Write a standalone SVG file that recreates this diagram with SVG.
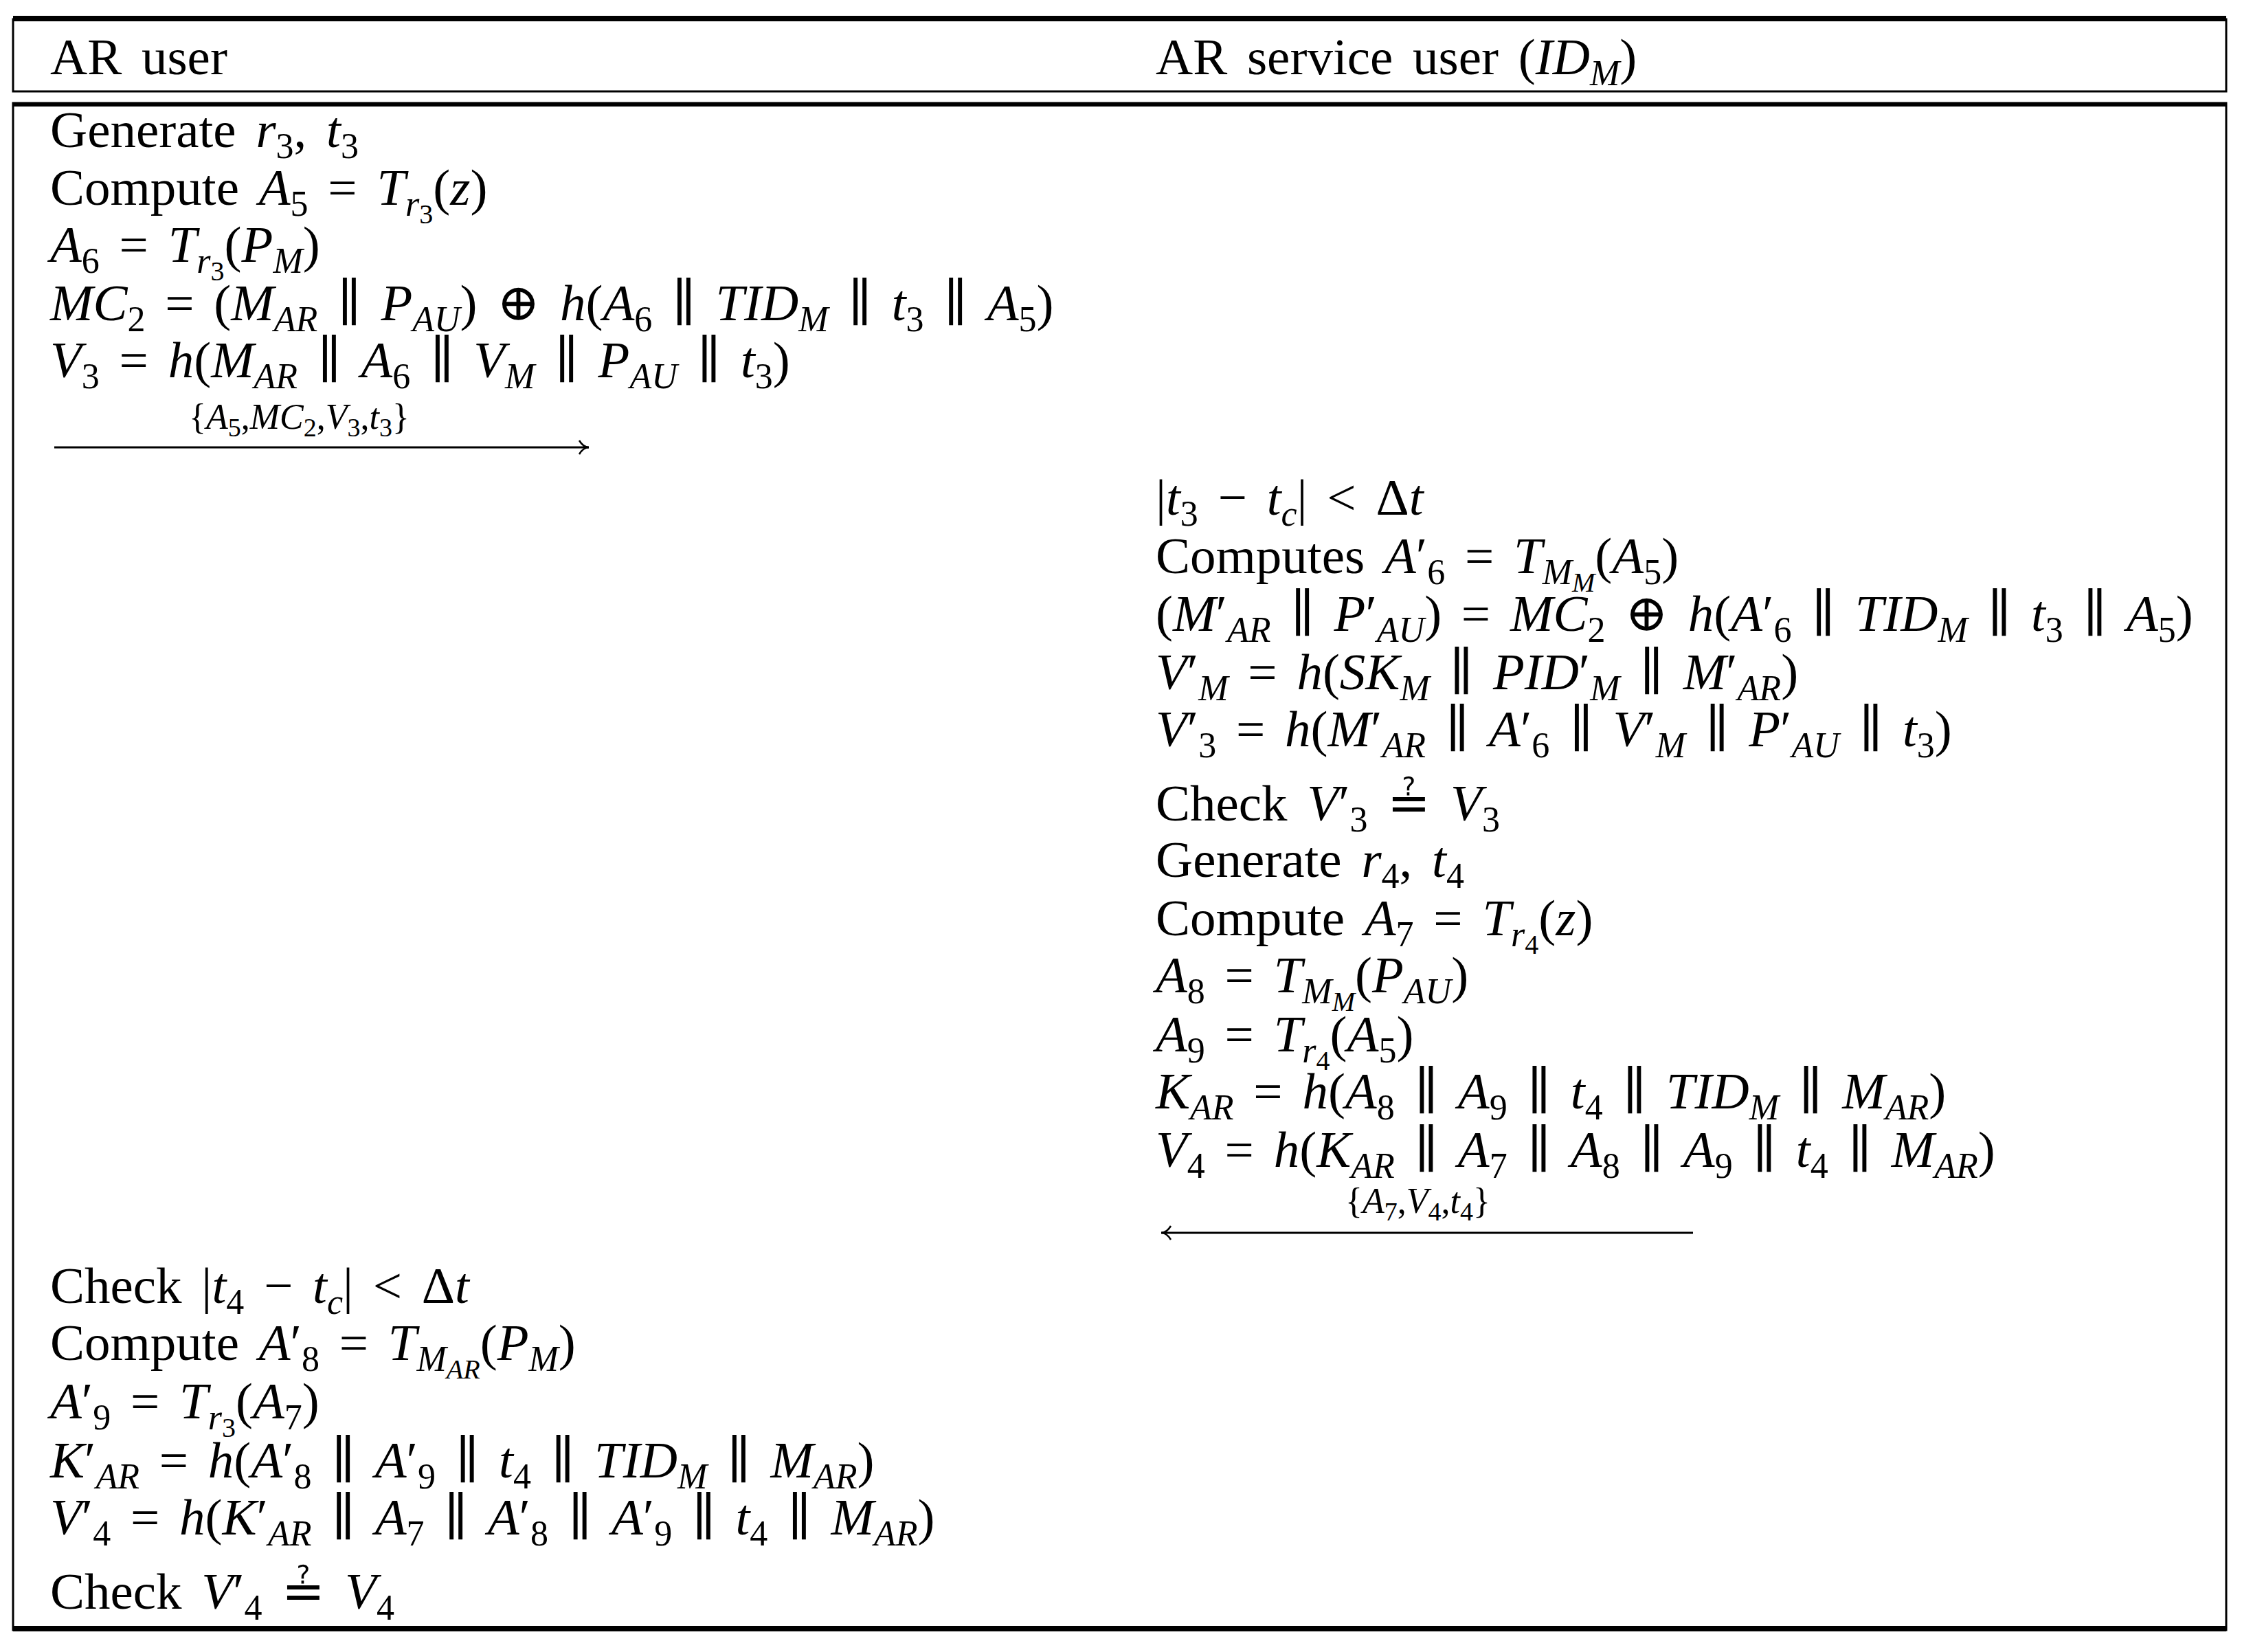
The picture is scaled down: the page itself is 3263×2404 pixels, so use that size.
<svg xmlns="http://www.w3.org/2000/svg" width="3263" height="2404" viewBox="0 0 3263 2404">
<style>
text{font-family:"Liberation Serif","DejaVu Serif",serif;font-size:75px;fill:#000;word-spacing:10px}
.i{font-style:italic}
.s{font-size:52px;baseline-shift:-16px}
.ss{font-size:40px;baseline-shift:-11px}
.lbl{font-size:52px;word-spacing:0}
.lbl .s{font-size:38px;baseline-shift:-11px}
line.c{stroke:#000;stroke-width:3}
</style>
<defs>
<marker id="ah" viewBox="0 0 20 24" refX="18" refY="12" markerWidth="20" markerHeight="24" markerUnits="userSpaceOnUse" orient="auto-start-reverse">
<path d="M4,2 Q10,12 18,12 Q10,12 4,22" fill="none" stroke="#000" stroke-width="2.5"/>
</marker>
</defs>
<rect width="3263" height="2404" fill="#fff"/>
<g id="frame">
<rect x="19" y="28" width="3221" height="105" fill="none" stroke="#000" stroke-width="3"/>
<line x1="19" y1="27" x2="3240" y2="27" stroke="#000" stroke-width="8"/>
<rect x="19" y="150" width="3221" height="2222" fill="none" stroke="#000" stroke-width="3"/>
<line x1="19" y1="152" x2="3240" y2="152" stroke="#000" stroke-width="6"/>
<line x1="19" y1="2370" x2="3240" y2="2370" stroke="#000" stroke-width="8"/>
</g>
<g id="header">
<text x="73" y="108">AR user</text>
<text x="1682" y="108">AR service user (<tspan class="i">ID<tspan class="s">M</tspan></tspan>)</text>
</g>
<g id="ar-user-step1">
<text x="73" y="214">Generate <tspan class="i">r</tspan><tspan class="s">3</tspan><tspan baseline-shift="0">, </tspan><tspan class="i">t</tspan><tspan class="s">3</tspan></text>
<text x="73" y="298">Compute <tspan class="i">A</tspan><tspan class="s">5</tspan> = <tspan class="i">T</tspan><tspan class="s i">r<tspan class="ss" font-style="normal">3</tspan></tspan>(<tspan class="i">z</tspan>)</text>
<text x="73" y="381"><tspan class="i">A</tspan><tspan class="s">6</tspan> = <tspan class="i">T</tspan><tspan class="s i">r<tspan class="ss" font-style="normal">3</tspan></tspan>(<tspan class="i">P</tspan><tspan class="s i">M</tspan>)</text>
<text x="73" y="466"><tspan class="i">MC</tspan><tspan class="s">2</tspan> = (<tspan class="i">M</tspan><tspan class="s i">AR</tspan> ∥ <tspan class="i">P</tspan><tspan class="s i">AU</tspan>) ⊕ <tspan class="i">h</tspan>(<tspan class="i">A</tspan><tspan class="s">6</tspan> ∥ <tspan class="i">TID</tspan><tspan class="s i">M</tspan> ∥ <tspan class="i">t</tspan><tspan class="s">3</tspan> ∥ <tspan class="i">A</tspan><tspan class="s">5</tspan>)</text>
<text x="73" y="549"><tspan class="i">V</tspan><tspan class="s">3</tspan> = <tspan class="i">h</tspan>(<tspan class="i">M</tspan><tspan class="s i">AR</tspan> ∥ <tspan class="i">A</tspan><tspan class="s">6</tspan> ∥ <tspan class="i">V</tspan><tspan class="s i">M</tspan> ∥ <tspan class="i">P</tspan><tspan class="s i">AU</tspan> ∥ <tspan class="i">t</tspan><tspan class="s">3</tspan>)</text>
</g>
<g id="service-step">
<text x="1682" y="749">|<tspan class="i">t</tspan><tspan class="s">3</tspan> − <tspan class="i">t</tspan><tspan class="s i">c</tspan>| &lt; Δ<tspan class="i">t</tspan></text>
<text x="1682" y="834">Computes <tspan class="i">A</tspan>′<tspan class="s">6</tspan> = <tspan class="i">T</tspan><tspan class="s i">M<tspan class="ss">M</tspan></tspan>(<tspan class="i">A</tspan><tspan class="s">5</tspan>)</text>
<text x="1682" y="918">(<tspan class="i">M</tspan>′<tspan class="s i">AR</tspan> ∥ <tspan class="i">P</tspan>′<tspan class="s i">AU</tspan>) = <tspan class="i">MC</tspan><tspan class="s">2</tspan> ⊕ <tspan class="i">h</tspan>(<tspan class="i">A</tspan>′<tspan class="s">6</tspan> ∥ <tspan class="i">TID</tspan><tspan class="s i">M</tspan> ∥ <tspan class="i">t</tspan><tspan class="s">3</tspan> ∥ <tspan class="i">A</tspan><tspan class="s">5</tspan>)</text>
<text x="1682" y="1003"><tspan class="i">V</tspan>′<tspan class="s i">M</tspan> = <tspan class="i">h</tspan>(<tspan class="i">SK</tspan><tspan class="s i">M</tspan> ∥ <tspan class="i">PID</tspan>′<tspan class="s i">M</tspan> ∥ <tspan class="i">M</tspan>′<tspan class="s i">AR</tspan>)</text>
<text x="1682" y="1086"><tspan class="i">V</tspan>′<tspan class="s">3</tspan> = <tspan class="i">h</tspan>(<tspan class="i">M</tspan>′<tspan class="s i">AR</tspan> ∥ <tspan class="i">A</tspan>′<tspan class="s">6</tspan> ∥ <tspan class="i">V</tspan>′<tspan class="s i">M</tspan> ∥ <tspan class="i">P</tspan>′<tspan class="s i">AU</tspan> ∥ <tspan class="i">t</tspan><tspan class="s">3</tspan>)</text>
<text x="1682" y="1194">Check <tspan class="i">V</tspan>′<tspan class="s">3</tspan> ≟ <tspan class="i">V</tspan><tspan class="s">3</tspan></text>
<text x="1682" y="1276">Generate <tspan class="i">r</tspan><tspan class="s">4</tspan>, <tspan class="i">t</tspan><tspan class="s">4</tspan></text>
<text x="1682" y="1361">Compute <tspan class="i">A</tspan><tspan class="s">7</tspan> = <tspan class="i">T</tspan><tspan class="s i">r<tspan class="ss" font-style="normal">4</tspan></tspan>(<tspan class="i">z</tspan>)</text>
<text x="1682" y="1444"><tspan class="i">A</tspan><tspan class="s">8</tspan> = <tspan class="i">T</tspan><tspan class="s i">M<tspan class="ss">M</tspan></tspan>(<tspan class="i">P</tspan><tspan class="s i">AU</tspan>)</text>
<text x="1682" y="1530"><tspan class="i">A</tspan><tspan class="s">9</tspan> = <tspan class="i">T</tspan><tspan class="s i">r<tspan class="ss" font-style="normal">4</tspan></tspan>(<tspan class="i">A</tspan><tspan class="s">5</tspan>)</text>
<text x="1682" y="1613"><tspan class="i">K</tspan><tspan class="s i">AR</tspan> = <tspan class="i">h</tspan>(<tspan class="i">A</tspan><tspan class="s">8</tspan> ∥ <tspan class="i">A</tspan><tspan class="s">9</tspan> ∥ <tspan class="i">t</tspan><tspan class="s">4</tspan> ∥ <tspan class="i">TID</tspan><tspan class="s i">M</tspan> ∥ <tspan class="i">M</tspan><tspan class="s i">AR</tspan>)</text>
<text x="1682" y="1698"><tspan class="i">V</tspan><tspan class="s">4</tspan> = <tspan class="i">h</tspan>(<tspan class="i">K</tspan><tspan class="s i">AR</tspan> ∥ <tspan class="i">A</tspan><tspan class="s">7</tspan> ∥ <tspan class="i">A</tspan><tspan class="s">8</tspan> ∥ <tspan class="i">A</tspan><tspan class="s">9</tspan> ∥ <tspan class="i">t</tspan><tspan class="s">4</tspan> ∥ <tspan class="i">M</tspan><tspan class="s i">AR</tspan>)</text>
</g>
<g id="ar-user-step2">
<text x="73" y="1896">Check |<tspan class="i">t</tspan><tspan class="s">4</tspan> − <tspan class="i">t</tspan><tspan class="s i">c</tspan>| &lt; Δ<tspan class="i">t</tspan></text>
<text x="73" y="1979">Compute <tspan class="i">A</tspan>′<tspan class="s">8</tspan> = <tspan class="i">T</tspan><tspan class="s i">M<tspan class="ss">AR</tspan></tspan>(<tspan class="i">P</tspan><tspan class="s i">M</tspan>)</text>
<text x="73" y="2064"><tspan class="i">A</tspan>′<tspan class="s">9</tspan> = <tspan class="i">T</tspan><tspan class="s i">r<tspan class="ss" font-style="normal">3</tspan></tspan>(<tspan class="i">A</tspan><tspan class="s">7</tspan>)</text>
<text x="73" y="2150"><tspan class="i">K</tspan>′<tspan class="s i">AR</tspan> = <tspan class="i">h</tspan>(<tspan class="i">A</tspan>′<tspan class="s">8</tspan> ∥ <tspan class="i">A</tspan>′<tspan class="s">9</tspan> ∥ <tspan class="i">t</tspan><tspan class="s">4</tspan> ∥ <tspan class="i">TID</tspan><tspan class="s i">M</tspan> ∥ <tspan class="i">M</tspan><tspan class="s i">AR</tspan>)</text>
<text x="73" y="2233"><tspan class="i">V</tspan>′<tspan class="s">4</tspan> = <tspan class="i">h</tspan>(<tspan class="i">K</tspan>′<tspan class="s i">AR</tspan> ∥ <tspan class="i">A</tspan><tspan class="s">7</tspan> ∥ <tspan class="i">A</tspan>′<tspan class="s">8</tspan> ∥ <tspan class="i">A</tspan>′<tspan class="s">9</tspan> ∥ <tspan class="i">t</tspan><tspan class="s">4</tspan> ∥ <tspan class="i">M</tspan><tspan class="s i">AR</tspan>)</text>
<text x="73" y="2341">Check <tspan class="i">V</tspan>′<tspan class="s">4</tspan> ≟ <tspan class="i">V</tspan><tspan class="s">4</tspan></text>
</g>
<g id="connectors">
<line class="c" x1="79" y1="651" x2="857" y2="651" marker-end="url(#ah)"/>
<text class="lbl" x="275" y="624">{<tspan class="i">A</tspan><tspan class="s">5</tspan>,<tspan class="i">MC</tspan><tspan class="s">2</tspan>,<tspan class="i">V</tspan><tspan class="s">3</tspan>,<tspan class="i">t</tspan><tspan class="s">3</tspan>}</text>
<line class="c" x1="2464" y1="1794" x2="1690" y2="1794" marker-end="url(#ah)"/>
<text class="lbl" x="1958" y="1765">{<tspan class="i">A</tspan><tspan class="s">7</tspan>,<tspan class="i">V</tspan><tspan class="s">4</tspan>,<tspan class="i">t</tspan><tspan class="s">4</tspan>}</text>
</g>
</svg>
